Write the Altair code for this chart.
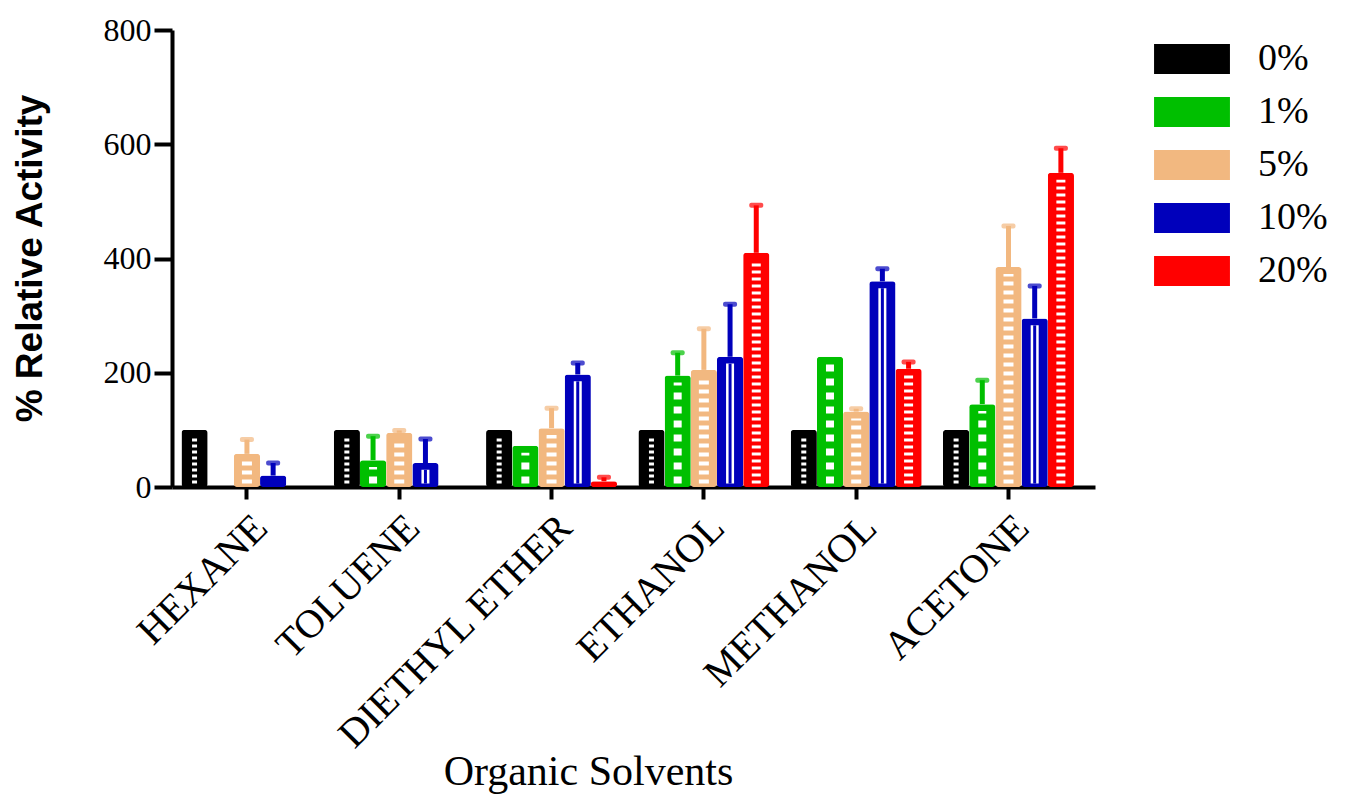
import altair as alt
import pandas as pd

solvents = ["HEXANE", "TOLUENE", "DIETHYL ETHER", "ETHANOL", "METHANOL", "ACETONE"]
series = ["0%", "1%", "5%", "10%", "20%"]
colors = ["#000000", "#00BF00", "#F2B880", "#0000BB", "#FF0000"]

val_0 = [100, 100, 100, 100, 100, 100]
val_1 = [0, 47, 72, 195, 228, 145]
val_5 = [58, 95, 103, 205, 132, 385]
val_10 = [20, 42, 197, 228, 360, 295]
val_20 = [0, 0, 10, 410, 207, 550]

err_0 = [0, 0, 0, 0, 0, 0]
err_1 = [0, 42, 0, 40, 0, 42]
err_5 = [25, 4, 35, 72, 5, 72]
err_10 = [22, 42, 20, 92, 22, 57]
err_20 = [0, 0, 7, 83, 12, 43]

vals = [val_0, val_1, val_5, val_10, val_20]
errs = [err_0, err_1, err_5, err_10, err_20]

# inner pattern style per series (white dashed stripe inside each bar)
pattern_width = [5, 8, 10, 8, 9]
pattern_dash = [[3, 3], [7, 7], [4, 5], [1, 0], [3, 4]]

rows = []
for s, v, e in zip(series, vals, errs):
    for c, vv, ee in zip(solvents, v, e):
        rows.append({"solvent": c, "conc": s, "value": vv, "err": ee})
df = pd.DataFrame(rows)

SERIF = "Liberation Serif"
SANS = "Liberation Sans"

x_enc = alt.X(
    "solvent:N",
    sort=solvents,
    scale=alt.Scale(paddingInner=0.14, paddingOuter=0.1, align=0.31),
    title="Organic Solvents",
    axis=alt.Axis(
        labelAngle=-45, labelFont=SERIF, labelFontSize=40, labelColor="black",
        labelPadding=8, labelLimit=0, tickSize=12, tickWidth=4, tickColor="black",
        domainWidth=4, domainColor="black", titleFont=SERIF, titleFontSize=42,
        titleFontWeight="normal", titleColor="black", titleX=416, titleY=297,
        titleBaseline="alphabetic", titleAlign="center",
    ),
)
xo_enc = alt.XOffset("conc:N", sort=series, scale=alt.Scale(paddingInner=0.0))

y_axis = alt.Axis(
    values=[0, 200, 400, 600, 800], tickSize=18, tickWidth=4, tickColor="black",
    domainWidth=4, domainColor="black", labelFont=SERIF, labelFontSize=32,
    labelColor="black", labelPadding=3, grid=False, titleFont=SANS,
    titleFontSize=37, titleFontWeight="bold", titleColor="black",
    titleX=-142, titleY=228, titleAngle=-90, titleAlign="center",
    titleBaseline="middle",
)
y_scale = alt.Scale(domain=[0, 800], nice=False)
TITLE = "% Relative Activity"

legend = alt.Legend(
    orient="none", legendX=1001, legendY=10, title=None,
    symbolType="M-2.4,-0.95H2.4V0.95H-2.4Z", symbolSize=1000,
    symbolStrokeWidth=0, symbolStrokeColor="transparent", symbolDash=[1, 0],
    symbolOpacity=1,
    labelFont=SERIF, labelFontSize=38, labelColor="black",
    labelOffset=47, rowPadding=15,
)
color_enc = alt.Color(
    "conc:N", sort=series,
    scale=alt.Scale(domain=series, range=colors),
    legend=legend,
)

base = alt.Chart(df).encode(x=x_enc, xOffset=xo_enc)

bars = base.mark_bar(cornerRadius=3).encode(
    y=alt.Y("value:Q", scale=y_scale, axis=y_axis, title=TITLE),
    color=color_enc,
)

pattern_layers = []
for s, w, d in zip(series, pattern_width, pattern_dash):
    pattern_layers.append(
        base.transform_filter(f"datum.value > 25 && datum.conc == '{s}'")
        .transform_calculate(y0="6", y1="datum.value - 12")
        .mark_rule(color="white", strokeWidth=w, strokeDash=d)
        .encode(y=alt.Y("y0:Q", scale=y_scale, axis=y_axis, title=TITLE), y2="y1:Q")
    )

inner10 = base.transform_filter("datum.value > 25 && datum.conc == '10%'").transform_calculate(
    y0="6", y1="datum.value - 12"
).mark_rule(color="#0000BB", strokeWidth=3).encode(
    y=alt.Y("y0:Q", scale=y_scale, axis=y_axis, title=TITLE),
    y2="y1:Q",
)

errbar = base.transform_filter("datum.err > 0").transform_calculate(
    top="datum.value + datum.err"
).mark_rule(strokeWidth=5).encode(
    y=alt.Y("value:Q", scale=y_scale, axis=y_axis, title=TITLE),
    y2="top:Q",
    color=color_enc,
)

caps = base.transform_filter("datum.err > 0").transform_calculate(
    top="datum.value + datum.err"
).mark_tick(thickness=5, size=14, cornerRadius=2).encode(
    y=alt.Y("top:Q", scale=y_scale, axis=y_axis, title=TITLE),
    color=color_enc,
)

chart = alt.layer(bars, errbar, caps, *pattern_layers, inner10).properties(
    width=923, height=457,
    autosize=alt.AutoSizeParams(type="none"),
    padding={"left": 172, "top": 30, "right": 265, "bottom": 310},
).configure(background="white", view=alt.ViewConfig(stroke=None))

chart.save("out.html", embed_options={"renderer": "svg", "actions": False})
